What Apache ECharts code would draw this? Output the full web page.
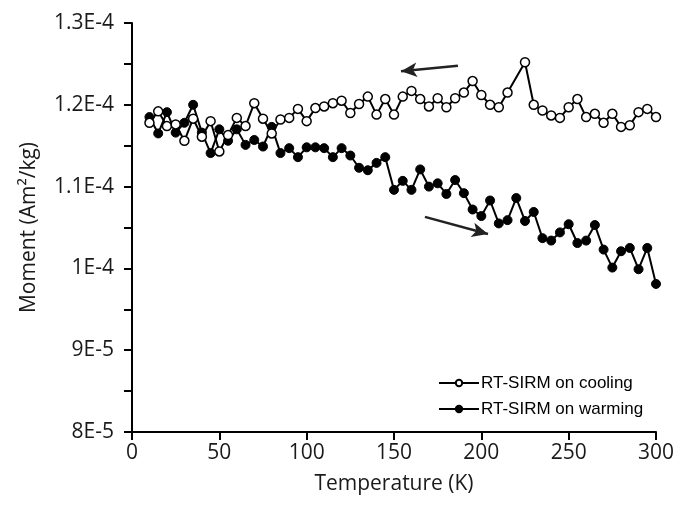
<!DOCTYPE html>
<html>
<head>
<meta charset="utf-8">
<script src="https://cdn.jsdelivr.net/npm/echarts@6/dist/echarts.min.js"></script>
<style>html,body{margin:0;padding:0;background:#fff;}#c{width:682px;height:506px;}</style>
</head>
<body>
<div id="c"></div>
<script>
// Temperatures (K) and moments (Am^2/kg)
const coolingT = [10,15,20,25,30,35,40,45,50,55,60,65,70,75,80,85,90,95,100,105,110,115,120,125,130,135,140,145,150,155,160,165,170,175,180,185,190,195,200,205,210,215,225,230,235,240,245,250,255,260,265,270,275,280,285,290,295,300];
const coolingM = [1.178e-4,1.192e-4,1.174e-4,1.176e-4,1.156e-4,1.183e-4,1.161e-4,1.180e-4,1.143e-4,1.163e-4,1.184e-4,1.174e-4,1.202e-4,1.183e-4,1.165e-4,1.182e-4,1.184e-4,1.195e-4,1.180e-4,1.196e-4,1.198e-4,1.202e-4,1.205e-4,1.190e-4,1.201e-4,1.210e-4,1.188e-4,1.207e-4,1.188e-4,1.210e-4,1.217e-4,1.207e-4,1.198e-4,1.208e-4,1.197e-4,1.208e-4,1.215e-4,1.229e-4,1.212e-4,1.200e-4,1.197e-4,1.215e-4,1.252e-4,1.200e-4,1.193e-4,1.187e-4,1.184e-4,1.197e-4,1.207e-4,1.185e-4,1.189e-4,1.178e-4,1.189e-4,1.173e-4,1.175e-4,1.191e-4,1.195e-4,1.185e-4];
const warmingT = [10,15,20,25,30,35,40,45,50,55,60,65,70,75,80,85,90,95,100,105,110,115,120,125,130,135,140,145,150,155,160,165,170,175,180,185,190,195,200,205,210,215,220,225,230,235,240,245,250,255,260,265,270,275,280,285,290,295,300];
const warmingM = [1.185e-4,1.165e-4,1.191e-4,1.166e-4,1.178e-4,1.200e-4,1.166e-4,1.141e-4,1.170e-4,1.156e-4,1.170e-4,1.151e-4,1.157e-4,1.149e-4,1.173e-4,1.141e-4,1.147e-4,1.136e-4,1.148e-4,1.148e-4,1.147e-4,1.136e-4,1.147e-4,1.138e-4,1.123e-4,1.120e-4,1.129e-4,1.136e-4,1.096e-4,1.107e-4,1.096e-4,1.121e-4,1.100e-4,1.104e-4,1.091e-4,1.108e-4,1.092e-4,1.072e-4,1.064e-4,1.083e-4,1.055e-4,1.059e-4,1.086e-4,1.058e-4,1.069e-4,1.037e-4,1.034e-4,1.044e-4,1.054e-4,1.031e-4,1.034e-4,1.053e-4,1.023e-4,1.001e-4,1.021e-4,1.025e-4,0.999e-4,1.025e-4,0.981e-4];
const seriesNames = ['RT-SIRM on cooling','RT-SIRM on warming'];
const yMin = 8e-5, yMax = 1.3e-4, yStep = 1e-5;
const yTickLabels = ['8E-5','9E-5','1E-4','1.1E-4','1.2E-4','1.3E-4'];
const xMin = 0, xMax = 300, xStep = 50;
// annotation arrows (data coordinates: [T, moment])
const arrowCooling = [[186.6,1.2477e-4],[154,1.241e-4]];
const arrowWarming = [[167.7,1.063e-4],[203.8,1.042e-4]];

const pairs = (xs, ys) => xs.map((x, i) => [x, ys[i]]);
const font = "'Open Sans', sans-serif";
const chart = echarts.init(document.getElementById('c'), null, {renderer:'canvas'});
const axisCommon = {
  axisLine:{show:true, lineStyle:{color:'#000', width:2}},
  axisTick:{show:true, inside:false, length:8, lineStyle:{color:'#000', width:2}},
  splitLine:{show:false},
  nameTextStyle:{color:'#1a1a1a', fontSize:21, fontFamily:font},
};
chart.setOption({
  animation:false,
  backgroundColor:'#fff',
  grid:{left:132, right:26, top:23, bottom:74, containLabel:false, outerBoundsMode:'none'},
  xAxis:Object.assign({}, axisCommon, {
    type:'value', min:xMin, max:xMax, interval:xStep,
    axisLabel:{color:'#1a1a1a', fontSize:21, fontFamily:font, margin:11},
    name:'Temperature (K)', nameLocation:'middle', nameGap:42,
  }),
  yAxis:Object.assign({}, axisCommon, {
    type:'value', min:yMin, max:yMax, interval:yStep,
    minorTick:{show:true, splitNumber:2, length:8, lineStyle:{color:'#000', width:2}},
    axisLabel:{color:'#1a1a1a', fontSize:21, fontFamily:font, margin:18,
      formatter:(v) => yTickLabels[Math.round((v - yMin) / yStep)]},
    name:'Moment (Am²/kg)', nameLocation:'middle', nameGap:92,
  }),
  legend:{
    orient:'vertical', left:438, top:374, padding:0, itemGap:8,
    itemWidth:40, itemHeight:8,
    textStyle:{color:'#000', fontSize:17, lineHeight:18, fontFamily:"'Liberation Sans', Arial, sans-serif", padding:[0,0,0,-3]},
    data:seriesNames,
  },
  series:[
    {
      name:seriesNames[1], type:'line', data:pairs(warmingT, warmingM),
      symbol:'circle', symbolSize:9,
      lineStyle:{color:'#000', width:2},
      itemStyle:{color:'#000', borderColor:'#000', borderWidth:1},
      markLine:{
        silent:true, animation:false, symbol:['none','arrow'], symbolSize:[11,16],
        lineStyle:{color:'#222', width:2.5, type:'solid'}, label:{show:false},
        emphasis:{disabled:true},
        data:[
          [{coord:arrowCooling[0]},{coord:arrowCooling[1]}],
          [{coord:arrowWarming[0]},{coord:arrowWarming[1]}]
        ]
      }
    },
    {
      name:seriesNames[0], type:'line', data:pairs(coolingT, coolingM),
      symbol:'circle', symbolSize:9,
      lineStyle:{color:'#000', width:2},
      itemStyle:{color:'#fff', borderColor:'#000', borderWidth:1.5}
    }
  ]
});
</script>
</body>
</html>
